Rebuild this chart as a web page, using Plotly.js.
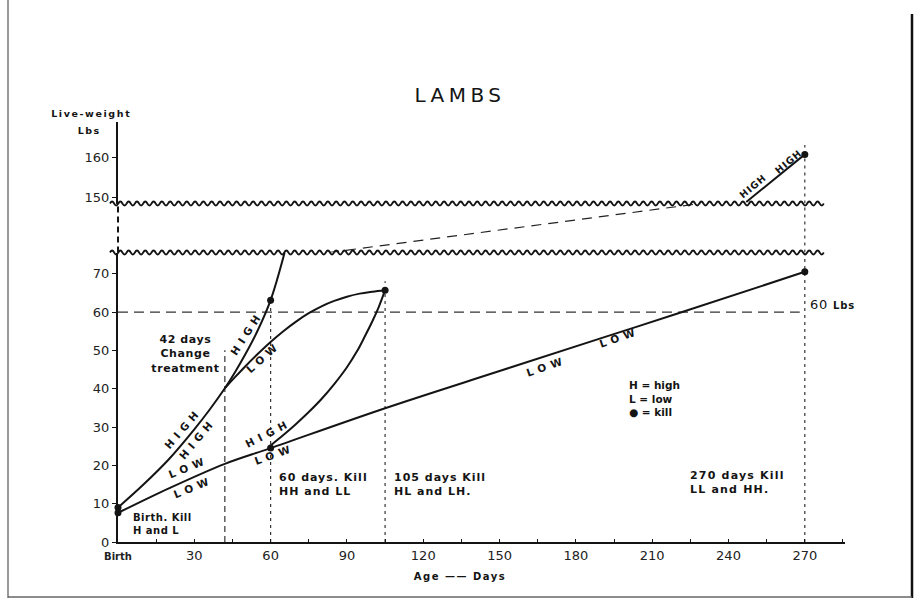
<!DOCTYPE html>
<html><head><meta charset="utf-8">
<script src="https://cdn.plot.ly/plotly-3.0.1.min.js"></script>
<style>html,body{margin:0;padding:0;background:#fff}#chart{width:918px;height:601px}</style>
</head><body><div id="chart"></div>
<script>
// ---------------- DATA ----------------
const xTickVals = [0, 30, 60, 90, 120, 150, 180, 210, 240, 270];
const xTickText = ['Birth', '30', '60', '90', '120', '150', '180', '210', '240', '270'];
const yLowTickVals = [0, 10, 20, 30, 40, 50, 60, 70];
const yHighTickVals = [150, 160];

// High plane from birth (HH), lower part of the chart
const hhDays   = [0, 10, 20, 30, 36, 42, 46, 50, 55, 60, 65.5];
const hhWeight = [9, 15.0, 21.6, 29.4, 34.5, 40.1, 44.3, 48.9, 55.3, 63.1, 75.5];
// HH continued across the break (dashed) and above it
const hhGapDays   = [83, 229];
const hhGapWeight = [75.5, 148.4];
const hhUpperDays   = [247, 270];
const hhUpperWeight = [148.8, 160.8];
// High then low after 42 days (HL)
const hlDays   = [42, 46, 50, 55, 60, 65, 70, 75, 80, 85, 90, 95, 100, 105];
const hlWeight = [40.1, 43.0, 45.8, 49.1, 52.2, 55.0, 57.5, 59.7, 61.5, 62.9, 64.0, 64.8, 65.3, 65.7];
// Low then high after 60 days (LH)
const lhDays   = [60, 65, 70, 75, 80, 85, 90, 94, 97, 100, 102.5, 105];
const lhWeight = [25.2, 27.9, 30.8, 33.9, 37.3, 41.2, 45.6, 49.8, 53.6, 57.6, 61.3, 65.7];
// Low plane throughout (LL)
const llDays   = [0, 20, 42, 60, 105, 150, 190, 220, 270];
const llWeight = [7.6, 14.0, 20.4, 24.5, 34.9, 44.6, 53.2, 59.6, 70.5];
// Kill points
const killDays   = [0, 0, 60, 60, 105, 270];
const killWeight = [9, 7.6, 63.1, 24.5, 65.7, 70.5];
const killUpperDays   = [270];
const killUpperWeight = [160.8];
// Reference (kill-day / 60 lb) guide lines
const markDays = [42, 60, 105, 270];
const markTops = [50, 63.1, 68, 163.2];
const refWeight = 60;
const refWeightEnd = 268;

// ---------------- LAYOUT HELPERS ----------------
const F = 'DejaVu Sans, sans-serif';
const INK = '#141414';
const L = 118, R = 845, T = 122, B = 542;
const pw = R - L, ph = B - T;
const px = x => (x - L) / pw;
const py = y => (B - y) / ph;
const lowTop = 75.53, gapTop = 148.4, highTop = 168.98;
const yLowDomain = [0, py(252.5)];
const yGapDomain = [py(252.5), py(203.5)];
const yHighDomain = [py(203.5), 1];

function wavyPath(yPix, x0, x1, period, amp) {
  let d = `M ${px(x0)},${py(yPix)}`;
  let x = x0, up = true;
  const half = period / 2;
  while (x + half <= x1) {
    const cy = yPix + (up ? -2 * amp : 2 * amp);
    d += ` Q ${px(x + half / 2)},${py(cy)} ${px(x + half)},${py(yPix)}`;
    x += half; up = !up;
  }
  return d;
}

const curve = (x, y, yaxis, extra) => Object.assign({
  type: 'scatter', mode: 'lines', x: x, y: y, yaxis: yaxis, hoverinfo: 'skip',
  line: {color: INK, width: 2, shape: 'spline', smoothing: 1}
}, extra || {});
const guide = (x, y, yaxis, dash) => ({
  type: 'scatter', mode: 'lines', x: x, y: y, yaxis: yaxis, hoverinfo: 'skip',
  line: {color: '#333', width: 1.2, dash: dash}
});

const traces = [
  guide([0, refWeightEnd], [refWeight, refWeight], 'y', '10px,6px'),
  guide([markDays[0], markDays[0]], [0, markTops[0]], 'y', '6px,4px'),
  guide([markDays[1], markDays[1]], [0, markTops[1]], 'y', '3px,4px'),
  guide([markDays[2], markDays[2]], [0, markTops[2]], 'y', '3px,4px'),
  guide([markDays[3], markDays[3]], [0, lowTop], 'y', '3px,4px'),
  guide([markDays[3], markDays[3]], [lowTop, gapTop], 'y3', '3px,4px'),
  guide([markDays[3], markDays[3]], [gapTop, markTops[3]], 'y2', '3px,4px'),
  curve(llDays, llWeight, 'y'),
  curve(hhDays, hhWeight, 'y'),
  curve(hlDays, hlWeight, 'y'),
  curve(lhDays, lhWeight, 'y'),
  curve(hhGapDays, hhGapWeight, 'y3', {line: {color: '#222', width: 1.2, dash: '10px,7px'}}),
  curve(hhUpperDays, hhUpperWeight, 'y2'),
  {type: 'scatter', mode: 'markers', x: killDays, y: killWeight, yaxis: 'y', cliponaxis: false,
   hoverinfo: 'skip', marker: {color: INK, size: 7}},
  {type: 'scatter', mode: 'markers', x: killUpperDays, y: killUpperWeight, yaxis: 'y2', cliponaxis: false,
   hoverinfo: 'skip', marker: {color: INK, size: 7}}
];

// ---------------- ANNOTATIONS ----------------
const annotations = [];
const annSpacing = [];
function addAnn(a, spacing) {
  annotations.push(Object.assign({showarrow: false, xanchor: 'center', yanchor: 'middle'}, a));
  annSpacing.push(spacing || 0);
}

const lineLabels  = ['HIGH', 'HIGH', 'LOW', 'LOW', 'HIGH', 'LOW', 'HIGH', 'LOW', 'LOW', 'LOW', 'HIGH', 'HIGH'];
const labelPos = [
  [25.6, 29.7, 'y', -49], [30.9, 27.0, 'y', -50], [27.6, 19.6, 'y', -22], [29.6, 14.3, 'y', -22],
  [50.6, 54.4, 'y', -57], [57.1, 48.3, 'y', -42], [59.1, 28.5, 'y', -27], [61.7, 23.0, 'y', -20],
  [168.5, 46.0, 'y', -19], [197.3, 53.5, 'y', -19], [249.3, 152.8, 'y2', -40], [263.6, 158.9, 'y2', -40]
];
lineLabels.forEach((t, i) => {
  const p = labelPos[i];
  const upper = i >= 10;
  addAnn({text: t, x: p[0], y: p[1], xref: 'x', yref: p[2], textangle: p[3],
          font: {family: F, size: upper ? 9.5 : 10.5, color: INK, weight: 'bold'}}, upper ? 1 : 5);
});

const noteFont = {family: F, size: 11, color: INK, weight: 'bold'};
addAnn({text: '42 days<br>Change<br>treatment', x: 26.7, y: 49, xref: 'x', yref: 'y', align: 'center',
        font: noteFont}, 0.6);
addAnn({text: 'Birth. Kill<br>H and L', x: 5.1, y: 4.8, xref: 'x', yref: 'y', xanchor: 'left', align: 'left',
        font: {family: F, size: 10, color: INK, weight: 'bold'}}, 0.5);
addAnn({text: '60 days. Kill<br>HH and LL', x: 62.4, y: 14.95, xref: 'x', yref: 'y', xanchor: 'left', align: 'left',
        font: noteFont}, 1);
addAnn({text: '105 days Kill<br>HL and LH.', x: 107.6, y: 15.05, xref: 'x', yref: 'y', xanchor: 'left', align: 'left',
        font: noteFont}, 1);
addAnn({text: '270 days Kill<br>LL and HH.', x: 224.2, y: 15.4, xref: 'x', yref: 'y', xanchor: 'left', align: 'left',
        font: noteFont}, 1.2);
addAnn({text: 'H = high<br>L = low<br>● = kill', x: 200.2, y: 37.4, xref: 'x', yref: 'y', xanchor: 'left', align: 'left',
        font: {family: F, size: 10.5, color: INK, weight: 'bold'}}, 0);
addAnn({text: "60 <span style='font-size:10px'><b>Lbs</b></span>", x: 271.3, y: 62, xref: 'x', yref: 'y',
        xanchor: 'left', align: 'left', font: {family: F, size: 13, color: INK}}, 0.8);
addAnn({text: 'Live-weight', x: px(91), y: py(113), xref: 'paper', yref: 'paper',
        font: {family: F, size: 9.5, color: INK, weight: 'bold'}}, 1.6);
addAnn({text: 'Lbs', x: px(89), y: py(130.5), xref: 'paper', yref: 'paper',
        font: {family: F, size: 9.5, color: INK, weight: 'bold'}}, 1.5);
addAnn({text: 'Age —— Days', x: px(460), y: py(576), xref: 'paper', yref: 'paper',
        font: {family: F, size: 10, color: INK, weight: 'bold'}}, 1.5);

// ---------------- SHAPES ----------------
const shapes = [
  {type: 'path', xref: 'paper', yref: 'paper', path: wavyPath(252.5, 110, 826, 8.3, 2),
   line: {color: INK, width: 1.8}},
  {type: 'path', xref: 'paper', yref: 'paper', path: wavyPath(203.5, 110, 826, 8.3, 2),
   line: {color: INK, width: 1.8}},
  {type: 'line', xref: 'paper', yref: 'paper', x0: 0, x1: 0, y0: py(252.5), y1: py(203.5),
   line: {color: INK, width: 2, dash: '6px,4px'}},
  {type: 'line', xref: 'paper', yref: 'paper', x0: px(8), x1: px(8), y0: py(0), y1: py(598),
   line: {color: '#777', width: 1.5}},
  {type: 'line', xref: 'paper', yref: 'paper', x0: px(912), x1: px(912), y0: py(14), y1: py(598),
   line: {color: '#111', width: 2.5}},
  {type: 'line', xref: 'paper', yref: 'paper', x0: px(8), x1: px(912), y0: py(597), y1: py(597),
   line: {color: '#666', width: 1.5}}
];

const axisCommon = {showgrid: false, zeroline: false, showline: true, linecolor: INK, linewidth: 2,
  tickcolor: INK, tickfont: {family: F, size: 13, color: '#222'}};

const layout = {
  width: 918, height: 601,
  margin: {l: L, r: 918 - R, t: T, b: 601 - B},
  paper_bgcolor: '#fff', plot_bgcolor: 'rgba(0,0,0,0)', showlegend: false,
  title: {text: 'LAMBS', font: {family: F, size: 20, color: INK}, xref: 'container', x: 460 / 918,
          xanchor: 'center', yref: 'container', y: 1 - 95 / 601, yanchor: 'middle'},
  xaxis: Object.assign({}, axisCommon, {
    range: [0, 285.8], tickmode: 'array', tickvals: xTickVals,
    ticktext: xTickText.map((t, i) => i === 0 ? "<span style='font-size:10px'><b>" + t + "</b></span>" : t),
    ticks: 'inside', ticklen: 3, anchor: 'y',
    minor: {tickmode: 'linear', tick0: 0, dtick: 15, ticks: 'inside', ticklen: 3, tickcolor: INK}
  }),
  yaxis: Object.assign({}, axisCommon, {
    domain: yLowDomain, range: [0, lowTop], tickmode: 'array', tickvals: yLowTickVals,
    ticks: 'outside', ticklen: 4, anchor: 'x'
  }),
  yaxis2: Object.assign({}, axisCommon, {
    domain: yHighDomain, range: [gapTop, highTop], tickmode: 'array', tickvals: yHighTickVals,
    ticks: 'outside', ticklen: 4, anchor: 'x'
  }),
  yaxis3: {domain: yGapDomain, range: [lowTop, gapTop], visible: false, anchor: 'x',
           showgrid: false, zeroline: false},
  shapes: shapes,
  annotations: annotations
};

Plotly.newPlot('chart', traces, layout, {staticPlot: true, displayModeBar: false}).then(() => {
  document.querySelectorAll('g.annotation').forEach(g => {
    const i = +g.getAttribute('data-index');
    const s = annSpacing[i];
    if (s) g.querySelectorAll('text').forEach(t => { t.style.letterSpacing = s + 'px'; });
  });
  const tt = document.querySelector('.gtitle');
  if (tt) tt.style.letterSpacing = '4.5px';
});
</script>
</body></html>
